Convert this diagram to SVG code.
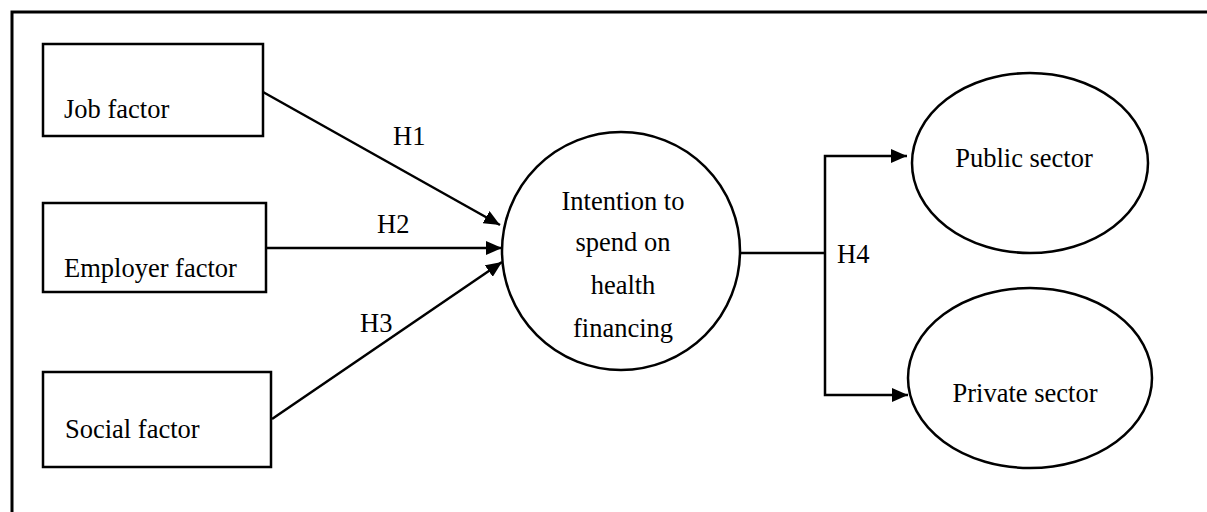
<svg xmlns="http://www.w3.org/2000/svg" width="1207" height="512" viewBox="0 0 1207 512">
<defs>
<marker id="arr" markerWidth="16" markerHeight="14" refX="16" refY="7" orient="auto" markerUnits="userSpaceOnUse">
<path d="M0,0 L16,7 L0,14 Z" fill="#000"/>
</marker>
<style>
.box{fill:#fff;stroke:#000;stroke-width:2.5}
.lbl{font-family:"Liberation Serif","Times New Roman",serif;font-size:26.5px;fill:#000}
.c{text-anchor:middle}
.con{fill:none;stroke:#000;stroke-width:2.5}
</style>
</defs>
<rect width="1207" height="512" fill="#fff"/>
<path d="M12,512 V12 H1207" fill="none" stroke="#000" stroke-width="3"/>
<g id="job">
<rect class="box" x="43" y="44" width="220" height="92"/>
<text class="lbl" x="64" y="118">Job factor</text>
</g>
<g id="employer">
<rect class="box" x="43" y="203" width="223" height="89"/>
<text class="lbl" x="64" y="277">Employer factor</text>
</g>
<g id="social">
<rect class="box" x="43" y="372" width="228" height="95"/>
<text class="lbl" x="65" y="438">Social factor</text>
</g>
<g id="intention">
<circle class="box" cx="621" cy="251" r="119"/>
<text class="lbl c" x="623" y="210">Intention to</text>
<text class="lbl c" x="623" y="251">spend on</text>
<text class="lbl c" x="623" y="294">health</text>
<text class="lbl c" x="623" y="337">financing</text>
</g>
<g id="public">
<ellipse class="box" cx="1030" cy="163" rx="118" ry="90"/>
<text class="lbl c" x="1024" y="167">Public sector</text>
</g>
<g id="private">
<ellipse class="box" cx="1030" cy="378" rx="122" ry="90"/>
<text class="lbl c" x="1025" y="402">Private sector</text>
</g>
<g id="connectors">
<line class="con" x1="263" y1="92" x2="500" y2="225" marker-end="url(#arr)"/>
<line class="con" x1="266" y1="248" x2="502" y2="248" marker-end="url(#arr)"/>
<line class="con" x1="272" y1="419" x2="502" y2="262" marker-end="url(#arr)"/>
<path class="con" d="M740,253 H825"/>
<path class="con" d="M825,253 V156 H907" marker-end="url(#arr)"/>
<path class="con" d="M825,253 V395 H908" marker-end="url(#arr)"/>
<text class="lbl" x="393" y="145">H1</text>
<text class="lbl" x="377" y="233">H2</text>
<text class="lbl" x="360" y="332">H3</text>
<text class="lbl" x="837" y="263">H4</text>
</g>
</svg>
